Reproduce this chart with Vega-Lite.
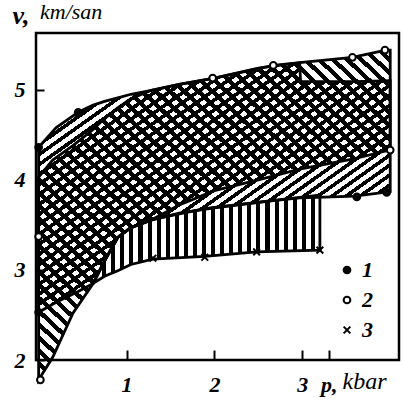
{
"$schema":"https://vega.github.io/schema/vega-lite/v6.json",
"width":363,"height":327,"autosize":"none",
"padding":{"left":36,"top":33,"right":5,"bottom":45},
"background":"white",
"title":{"text":"km/san","anchor":"start","frame":"group","dx":4,"offset":-39,"font":"Liberation Serif","fontSize":22,"fontStyle":"italic","fontWeight":"normal","color":"black","baseline":"alphabetic"},
"datasets":{
"bands":[
{"band":"1","p":0,"lo":2.53,"hi":4.36},{"band":"1","p":0.2,"lo":2.64,"hi":4.58},{"band":"1","p":0.45,"lo":2.76,"hi":4.75},{"band":"1","p":0.62,"lo":2.85,"hi":4.83},{"band":"1","p":0.75,"lo":3.1,"hi":4.87},{"band":"1","p":0.9,"lo":3.36,"hi":4.91},{"band":"1","p":1.05,"lo":3.47,"hi":4.95},{"band":"1","p":1.27,"lo":3.55,"hi":4.99},{"band":"1","p":1.6,"lo":3.63,"hi":5.06},{"band":"1","p":2.0,"lo":3.69,"hi":5.13},{"band":"1","p":2.67,"lo":3.77,"hi":5.27},{"band":"1","p":2.97,"lo":3.8,"hi":5.3},{"band":"1","p":2.98,"lo":3.8,"hi":5.09},{"band":"1","p":3.6,"lo":3.82,"hi":5.09},{"band":"1","p":4.0,"lo":3.87,"hi":5.1},
{"band":"2","p":0,"lo":1.78,"hi":4.03},{"band":"2","p":0.16,"lo":2.03,"hi":4.22},{"band":"2","p":0.39,"lo":2.52,"hi":4.38},{"band":"2","p":0.62,"lo":2.85,"hi":4.56},{"band":"2","p":0.75,"lo":3.1,"hi":4.68},{"band":"2","p":0.9,"lo":3.36,"hi":4.8},{"band":"2","p":1.05,"lo":3.47,"hi":4.9},{"band":"2","p":1.27,"lo":3.55,"hi":4.99},{"band":"2","p":1.6,"lo":3.72,"hi":5.06},{"band":"2","p":2.0,"lo":3.88,"hi":5.13},{"band":"2","p":2.5,"lo":4.0,"hi":5.24},{"band":"2","p":2.97,"lo":4.12,"hi":5.3},{"band":"2","p":3.57,"lo":4.23,"hi":5.36},{"band":"2","p":3.95,"lo":4.32,"hi":5.44},{"band":"2","p":4.0,"lo":4.33,"hi":5.44},
{"band":"3","p":0.62,"lo":2.85,"hi":2.85},{"band":"3","p":0.75,"lo":2.93,"hi":3.1},{"band":"3","p":0.9,"lo":2.99,"hi":3.36},{"band":"3","p":1.05,"lo":3.06,"hi":3.47},{"band":"3","p":1.3,"lo":3.12,"hi":3.56},{"band":"3","p":1.89,"lo":3.15,"hi":3.68},{"band":"3","p":2.48,"lo":3.2,"hi":3.75},{"band":"3","p":3.2,"lo":3.22,"hi":3.83}
],
"pts":[
{"s":"1","p":0,"v":4.36},{"s":"1","p":0.45,"v":4.75},{"s":"1","p":0,"v":2.53},{"s":"1","p":3.62,"v":3.81},{"s":"1","p":3.96,"v":3.86},
{"s":"2","p":0,"v":3.37},{"s":"2","p":0.02,"v":1.78},{"s":"2","p":1.98,"v":5.13},{"s":"2","p":2.67,"v":5.27},{"s":"2","p":3.57,"v":5.36},{"s":"2","p":3.94,"v":5.44},{"s":"2","p":4.0,"v":4.33},
{"s":"3","p":1.3,"v":3.13},{"s":"3","p":1.89,"v":3.14},{"s":"3","p":2.48,"v":3.2},{"s":"3","p":3.2,"v":3.22}
]},
"config":{
"view":{"stroke":"black","strokeWidth":2.5},
"axis":{"grid":false,"domain":false,"labelFont":"Liberation Serif","labelFontStyle":"italic","labelFontWeight":"bold","labelFontSize":22,"labelColor":"black","tickColor":"black","tickWidth":2,"titleColor":"black","titleFont":"Liberation Serif"},
"legend":{"orient":"none","legendX":300,"legendY":226,"title":null,"padding":0,"labelFont":"Liberation Serif","labelFontStyle":"italic","labelFontWeight":"bold","labelFontSize":22,"labelColor":"black","symbolSize":45,"symbolStrokeWidth":2,"rowPadding":8,"labelOffset":4}
},
"encoding":{
"x":{"field":"p","type":"quantitative","scale":{"domain":[-0.03,4.1],"nice":false,"zero":false},
"axis":{"values":[1,2,3,3.3],"labelExpr":"datum.value > 3.2 ? 'p,' : datum.label","tickSize":-10,"labelPadding":24,"title":"kbar","titleAngle":0,"titleAlign":"left","titleBaseline":"alphabetic","titleX":306,"titleY":28,"titleFontSize":24,"titleFontStyle":"italic","titleFontWeight":"normal"}}
},
"layer":[
{"data":{"name":"bands"},"transform":[{"filter":"datum.band == '1'"}],
"mark":{"type":"area","stroke":"black","strokeWidth":2.8,"fill":{"gradient":"linear","x1":0,"y1":0,"x2":1,"y2":1,"stops":[
{"offset":0,"color":"#000"},{"offset":0.009,"color":"#000"},{"offset":0.009,"color":"transparent"},{"offset":0.02,"color":"transparent"},
{"offset":0.02,"color":"#000"},{"offset":0.029,"color":"#000"},{"offset":0.029,"color":"transparent"},{"offset":0.04,"color":"transparent"},
{"offset":0.04,"color":"#000"},{"offset":0.049,"color":"#000"},{"offset":0.049,"color":"transparent"},{"offset":0.06,"color":"transparent"},
{"offset":0.06,"color":"#000"},{"offset":0.069,"color":"#000"},{"offset":0.069,"color":"transparent"},{"offset":0.08,"color":"transparent"},
{"offset":0.08,"color":"#000"},{"offset":0.089,"color":"#000"},{"offset":0.089,"color":"transparent"},{"offset":0.1,"color":"transparent"},
{"offset":0.1,"color":"#000"},{"offset":0.109,"color":"#000"},{"offset":0.109,"color":"transparent"},{"offset":0.12,"color":"transparent"},
{"offset":0.12,"color":"#000"},{"offset":0.129,"color":"#000"},{"offset":0.129,"color":"transparent"},{"offset":0.14,"color":"transparent"},
{"offset":0.14,"color":"#000"},{"offset":0.149,"color":"#000"},{"offset":0.149,"color":"transparent"},{"offset":0.16,"color":"transparent"},
{"offset":0.16,"color":"#000"},{"offset":0.169,"color":"#000"},{"offset":0.169,"color":"transparent"},{"offset":0.18,"color":"transparent"},
{"offset":0.18,"color":"#000"},{"offset":0.189,"color":"#000"},{"offset":0.189,"color":"transparent"},{"offset":0.2,"color":"transparent"},
{"offset":0.2,"color":"#000"},{"offset":0.209,"color":"#000"},{"offset":0.209,"color":"transparent"},{"offset":0.22,"color":"transparent"},
{"offset":0.22,"color":"#000"},{"offset":0.229,"color":"#000"},{"offset":0.229,"color":"transparent"},{"offset":0.24,"color":"transparent"},
{"offset":0.24,"color":"#000"},{"offset":0.249,"color":"#000"},{"offset":0.249,"color":"transparent"},{"offset":0.26,"color":"transparent"},
{"offset":0.26,"color":"#000"},{"offset":0.269,"color":"#000"},{"offset":0.269,"color":"transparent"},{"offset":0.28,"color":"transparent"},
{"offset":0.28,"color":"#000"},{"offset":0.289,"color":"#000"},{"offset":0.289,"color":"transparent"},{"offset":0.3,"color":"transparent"},
{"offset":0.3,"color":"#000"},{"offset":0.309,"color":"#000"},{"offset":0.309,"color":"transparent"},{"offset":0.32,"color":"transparent"},
{"offset":0.32,"color":"#000"},{"offset":0.329,"color":"#000"},{"offset":0.329,"color":"transparent"},{"offset":0.34,"color":"transparent"},
{"offset":0.34,"color":"#000"},{"offset":0.349,"color":"#000"},{"offset":0.349,"color":"transparent"},{"offset":0.36,"color":"transparent"},
{"offset":0.36,"color":"#000"},{"offset":0.369,"color":"#000"},{"offset":0.369,"color":"transparent"},{"offset":0.38,"color":"transparent"},
{"offset":0.38,"color":"#000"},{"offset":0.389,"color":"#000"},{"offset":0.389,"color":"transparent"},{"offset":0.4,"color":"transparent"},
{"offset":0.4,"color":"#000"},{"offset":0.409,"color":"#000"},{"offset":0.409,"color":"transparent"},{"offset":0.42,"color":"transparent"},
{"offset":0.42,"color":"#000"},{"offset":0.429,"color":"#000"},{"offset":0.429,"color":"transparent"},{"offset":0.44,"color":"transparent"},
{"offset":0.44,"color":"#000"},{"offset":0.449,"color":"#000"},{"offset":0.449,"color":"transparent"},{"offset":0.46,"color":"transparent"},
{"offset":0.46,"color":"#000"},{"offset":0.469,"color":"#000"},{"offset":0.469,"color":"transparent"},{"offset":0.48,"color":"transparent"},
{"offset":0.48,"color":"#000"},{"offset":0.489,"color":"#000"},{"offset":0.489,"color":"transparent"},{"offset":0.5,"color":"transparent"},
{"offset":0.5,"color":"#000"},{"offset":0.509,"color":"#000"},{"offset":0.509,"color":"transparent"},{"offset":0.52,"color":"transparent"},
{"offset":0.52,"color":"#000"},{"offset":0.529,"color":"#000"},{"offset":0.529,"color":"transparent"},{"offset":0.54,"color":"transparent"},
{"offset":0.54,"color":"#000"},{"offset":0.549,"color":"#000"},{"offset":0.549,"color":"transparent"},{"offset":0.56,"color":"transparent"},
{"offset":0.56,"color":"#000"},{"offset":0.569,"color":"#000"},{"offset":0.569,"color":"transparent"},{"offset":0.58,"color":"transparent"},
{"offset":0.58,"color":"#000"},{"offset":0.589,"color":"#000"},{"offset":0.589,"color":"transparent"},{"offset":0.6,"color":"transparent"},
{"offset":0.6,"color":"#000"},{"offset":0.609,"color":"#000"},{"offset":0.609,"color":"transparent"},{"offset":0.62,"color":"transparent"},
{"offset":0.62,"color":"#000"},{"offset":0.629,"color":"#000"},{"offset":0.629,"color":"transparent"},{"offset":0.64,"color":"transparent"},
{"offset":0.64,"color":"#000"},{"offset":0.649,"color":"#000"},{"offset":0.649,"color":"transparent"},{"offset":0.66,"color":"transparent"},
{"offset":0.66,"color":"#000"},{"offset":0.669,"color":"#000"},{"offset":0.669,"color":"transparent"},{"offset":0.68,"color":"transparent"},
{"offset":0.68,"color":"#000"},{"offset":0.689,"color":"#000"},{"offset":0.689,"color":"transparent"},{"offset":0.7,"color":"transparent"},
{"offset":0.7,"color":"#000"},{"offset":0.709,"color":"#000"},{"offset":0.709,"color":"transparent"},{"offset":0.72,"color":"transparent"},
{"offset":0.72,"color":"#000"},{"offset":0.729,"color":"#000"},{"offset":0.729,"color":"transparent"},{"offset":0.74,"color":"transparent"},
{"offset":0.74,"color":"#000"},{"offset":0.749,"color":"#000"},{"offset":0.749,"color":"transparent"},{"offset":0.76,"color":"transparent"},
{"offset":0.76,"color":"#000"},{"offset":0.769,"color":"#000"},{"offset":0.769,"color":"transparent"},{"offset":0.78,"color":"transparent"},
{"offset":0.78,"color":"#000"},{"offset":0.789,"color":"#000"},{"offset":0.789,"color":"transparent"},{"offset":0.8,"color":"transparent"},
{"offset":0.8,"color":"#000"},{"offset":0.809,"color":"#000"},{"offset":0.809,"color":"transparent"},{"offset":0.82,"color":"transparent"},
{"offset":0.82,"color":"#000"},{"offset":0.829,"color":"#000"},{"offset":0.829,"color":"transparent"},{"offset":0.84,"color":"transparent"},
{"offset":0.84,"color":"#000"},{"offset":0.849,"color":"#000"},{"offset":0.849,"color":"transparent"},{"offset":0.86,"color":"transparent"},
{"offset":0.86,"color":"#000"},{"offset":0.869,"color":"#000"},{"offset":0.869,"color":"transparent"},{"offset":0.88,"color":"transparent"},
{"offset":0.88,"color":"#000"},{"offset":0.889,"color":"#000"},{"offset":0.889,"color":"transparent"},{"offset":0.9,"color":"transparent"},
{"offset":0.9,"color":"#000"},{"offset":0.909,"color":"#000"},{"offset":0.909,"color":"transparent"},{"offset":0.92,"color":"transparent"},
{"offset":0.92,"color":"#000"},{"offset":0.929,"color":"#000"},{"offset":0.929,"color":"transparent"},{"offset":0.94,"color":"transparent"},
{"offset":0.94,"color":"#000"},{"offset":0.949,"color":"#000"},{"offset":0.949,"color":"transparent"},{"offset":0.96,"color":"transparent"},
{"offset":0.96,"color":"#000"},{"offset":0.969,"color":"#000"},{"offset":0.969,"color":"transparent"},{"offset":0.98,"color":"transparent"},
{"offset":0.98,"color":"#000"},{"offset":0.989,"color":"#000"},{"offset":0.989,"color":"transparent"},{"offset":1,"color":"transparent"}
]}},
"encoding":{"y":{"field":"lo","type":"quantitative","scale":{"domain":[2,5.63],"nice":false,"zero":false},
"axis":{"values":[2,3,4,5],"format":"d","tickSize":-8,"labelPadding":19,"title":"v,","titleAngle":0,"titleAlign":"left","titleBaseline":"alphabetic","titleX":-24,"titleY":-10,"titleFontSize":26,"titleFontStyle":"italic","titleFontWeight":"bold"}},
"y2":{"field":"hi"}}},
{"data":{"name":"bands"},"transform":[{"filter":"datum.band == '2'"}],
"mark":{"type":"area","stroke":"black","strokeWidth":2.8,"fill":{"gradient":"linear","x1":0,"y1":1,"x2":1,"y2":0,"stops":[
{"offset":0,"color":"#000"},{"offset":0.009,"color":"#000"},{"offset":0.009,"color":"transparent"},{"offset":0.02,"color":"transparent"},
{"offset":0.02,"color":"#000"},{"offset":0.029,"color":"#000"},{"offset":0.029,"color":"transparent"},{"offset":0.04,"color":"transparent"},
{"offset":0.04,"color":"#000"},{"offset":0.049,"color":"#000"},{"offset":0.049,"color":"transparent"},{"offset":0.06,"color":"transparent"},
{"offset":0.06,"color":"#000"},{"offset":0.069,"color":"#000"},{"offset":0.069,"color":"transparent"},{"offset":0.08,"color":"transparent"},
{"offset":0.08,"color":"#000"},{"offset":0.089,"color":"#000"},{"offset":0.089,"color":"transparent"},{"offset":0.1,"color":"transparent"},
{"offset":0.1,"color":"#000"},{"offset":0.109,"color":"#000"},{"offset":0.109,"color":"transparent"},{"offset":0.12,"color":"transparent"},
{"offset":0.12,"color":"#000"},{"offset":0.129,"color":"#000"},{"offset":0.129,"color":"transparent"},{"offset":0.14,"color":"transparent"},
{"offset":0.14,"color":"#000"},{"offset":0.149,"color":"#000"},{"offset":0.149,"color":"transparent"},{"offset":0.16,"color":"transparent"},
{"offset":0.16,"color":"#000"},{"offset":0.169,"color":"#000"},{"offset":0.169,"color":"transparent"},{"offset":0.18,"color":"transparent"},
{"offset":0.18,"color":"#000"},{"offset":0.189,"color":"#000"},{"offset":0.189,"color":"transparent"},{"offset":0.2,"color":"transparent"},
{"offset":0.2,"color":"#000"},{"offset":0.209,"color":"#000"},{"offset":0.209,"color":"transparent"},{"offset":0.22,"color":"transparent"},
{"offset":0.22,"color":"#000"},{"offset":0.229,"color":"#000"},{"offset":0.229,"color":"transparent"},{"offset":0.24,"color":"transparent"},
{"offset":0.24,"color":"#000"},{"offset":0.249,"color":"#000"},{"offset":0.249,"color":"transparent"},{"offset":0.26,"color":"transparent"},
{"offset":0.26,"color":"#000"},{"offset":0.269,"color":"#000"},{"offset":0.269,"color":"transparent"},{"offset":0.28,"color":"transparent"},
{"offset":0.28,"color":"#000"},{"offset":0.289,"color":"#000"},{"offset":0.289,"color":"transparent"},{"offset":0.3,"color":"transparent"},
{"offset":0.3,"color":"#000"},{"offset":0.309,"color":"#000"},{"offset":0.309,"color":"transparent"},{"offset":0.32,"color":"transparent"},
{"offset":0.32,"color":"#000"},{"offset":0.329,"color":"#000"},{"offset":0.329,"color":"transparent"},{"offset":0.34,"color":"transparent"},
{"offset":0.34,"color":"#000"},{"offset":0.349,"color":"#000"},{"offset":0.349,"color":"transparent"},{"offset":0.36,"color":"transparent"},
{"offset":0.36,"color":"#000"},{"offset":0.369,"color":"#000"},{"offset":0.369,"color":"transparent"},{"offset":0.38,"color":"transparent"},
{"offset":0.38,"color":"#000"},{"offset":0.389,"color":"#000"},{"offset":0.389,"color":"transparent"},{"offset":0.4,"color":"transparent"},
{"offset":0.4,"color":"#000"},{"offset":0.409,"color":"#000"},{"offset":0.409,"color":"transparent"},{"offset":0.42,"color":"transparent"},
{"offset":0.42,"color":"#000"},{"offset":0.429,"color":"#000"},{"offset":0.429,"color":"transparent"},{"offset":0.44,"color":"transparent"},
{"offset":0.44,"color":"#000"},{"offset":0.449,"color":"#000"},{"offset":0.449,"color":"transparent"},{"offset":0.46,"color":"transparent"},
{"offset":0.46,"color":"#000"},{"offset":0.469,"color":"#000"},{"offset":0.469,"color":"transparent"},{"offset":0.48,"color":"transparent"},
{"offset":0.48,"color":"#000"},{"offset":0.489,"color":"#000"},{"offset":0.489,"color":"transparent"},{"offset":0.5,"color":"transparent"},
{"offset":0.5,"color":"#000"},{"offset":0.509,"color":"#000"},{"offset":0.509,"color":"transparent"},{"offset":0.52,"color":"transparent"},
{"offset":0.52,"color":"#000"},{"offset":0.529,"color":"#000"},{"offset":0.529,"color":"transparent"},{"offset":0.54,"color":"transparent"},
{"offset":0.54,"color":"#000"},{"offset":0.549,"color":"#000"},{"offset":0.549,"color":"transparent"},{"offset":0.56,"color":"transparent"},
{"offset":0.56,"color":"#000"},{"offset":0.569,"color":"#000"},{"offset":0.569,"color":"transparent"},{"offset":0.58,"color":"transparent"},
{"offset":0.58,"color":"#000"},{"offset":0.589,"color":"#000"},{"offset":0.589,"color":"transparent"},{"offset":0.6,"color":"transparent"},
{"offset":0.6,"color":"#000"},{"offset":0.609,"color":"#000"},{"offset":0.609,"color":"transparent"},{"offset":0.62,"color":"transparent"},
{"offset":0.62,"color":"#000"},{"offset":0.629,"color":"#000"},{"offset":0.629,"color":"transparent"},{"offset":0.64,"color":"transparent"},
{"offset":0.64,"color":"#000"},{"offset":0.649,"color":"#000"},{"offset":0.649,"color":"transparent"},{"offset":0.66,"color":"transparent"},
{"offset":0.66,"color":"#000"},{"offset":0.669,"color":"#000"},{"offset":0.669,"color":"transparent"},{"offset":0.68,"color":"transparent"},
{"offset":0.68,"color":"#000"},{"offset":0.689,"color":"#000"},{"offset":0.689,"color":"transparent"},{"offset":0.7,"color":"transparent"},
{"offset":0.7,"color":"#000"},{"offset":0.709,"color":"#000"},{"offset":0.709,"color":"transparent"},{"offset":0.72,"color":"transparent"},
{"offset":0.72,"color":"#000"},{"offset":0.729,"color":"#000"},{"offset":0.729,"color":"transparent"},{"offset":0.74,"color":"transparent"},
{"offset":0.74,"color":"#000"},{"offset":0.749,"color":"#000"},{"offset":0.749,"color":"transparent"},{"offset":0.76,"color":"transparent"},
{"offset":0.76,"color":"#000"},{"offset":0.769,"color":"#000"},{"offset":0.769,"color":"transparent"},{"offset":0.78,"color":"transparent"},
{"offset":0.78,"color":"#000"},{"offset":0.789,"color":"#000"},{"offset":0.789,"color":"transparent"},{"offset":0.8,"color":"transparent"},
{"offset":0.8,"color":"#000"},{"offset":0.809,"color":"#000"},{"offset":0.809,"color":"transparent"},{"offset":0.82,"color":"transparent"},
{"offset":0.82,"color":"#000"},{"offset":0.829,"color":"#000"},{"offset":0.829,"color":"transparent"},{"offset":0.84,"color":"transparent"},
{"offset":0.84,"color":"#000"},{"offset":0.849,"color":"#000"},{"offset":0.849,"color":"transparent"},{"offset":0.86,"color":"transparent"},
{"offset":0.86,"color":"#000"},{"offset":0.869,"color":"#000"},{"offset":0.869,"color":"transparent"},{"offset":0.88,"color":"transparent"},
{"offset":0.88,"color":"#000"},{"offset":0.889,"color":"#000"},{"offset":0.889,"color":"transparent"},{"offset":0.9,"color":"transparent"},
{"offset":0.9,"color":"#000"},{"offset":0.909,"color":"#000"},{"offset":0.909,"color":"transparent"},{"offset":0.92,"color":"transparent"},
{"offset":0.92,"color":"#000"},{"offset":0.929,"color":"#000"},{"offset":0.929,"color":"transparent"},{"offset":0.94,"color":"transparent"},
{"offset":0.94,"color":"#000"},{"offset":0.949,"color":"#000"},{"offset":0.949,"color":"transparent"},{"offset":0.96,"color":"transparent"},
{"offset":0.96,"color":"#000"},{"offset":0.969,"color":"#000"},{"offset":0.969,"color":"transparent"},{"offset":0.98,"color":"transparent"},
{"offset":0.98,"color":"#000"},{"offset":0.989,"color":"#000"},{"offset":0.989,"color":"transparent"},{"offset":1,"color":"transparent"}
]}},
"encoding":{"y":{"field":"lo","type":"quantitative"},"y2":{"field":"hi"}}},
{"data":{"name":"bands"},"transform":[{"filter":"datum.band == '3'"}],
"mark":{"type":"area","stroke":"black","strokeWidth":2.8,"fill":{"gradient":"linear","x1":0,"y1":0,"x2":1,"y2":0,"stops":[
{"offset":0,"color":"#000"},{"offset":0.018,"color":"#000"},{"offset":0.018,"color":"transparent"},{"offset":0.04,"color":"transparent"},
{"offset":0.04,"color":"#000"},{"offset":0.058,"color":"#000"},{"offset":0.058,"color":"transparent"},{"offset":0.08,"color":"transparent"},
{"offset":0.08,"color":"#000"},{"offset":0.098,"color":"#000"},{"offset":0.098,"color":"transparent"},{"offset":0.12,"color":"transparent"},
{"offset":0.12,"color":"#000"},{"offset":0.138,"color":"#000"},{"offset":0.138,"color":"transparent"},{"offset":0.16,"color":"transparent"},
{"offset":0.16,"color":"#000"},{"offset":0.178,"color":"#000"},{"offset":0.178,"color":"transparent"},{"offset":0.2,"color":"transparent"},
{"offset":0.2,"color":"#000"},{"offset":0.218,"color":"#000"},{"offset":0.218,"color":"transparent"},{"offset":0.24,"color":"transparent"},
{"offset":0.24,"color":"#000"},{"offset":0.258,"color":"#000"},{"offset":0.258,"color":"transparent"},{"offset":0.28,"color":"transparent"},
{"offset":0.28,"color":"#000"},{"offset":0.298,"color":"#000"},{"offset":0.298,"color":"transparent"},{"offset":0.32,"color":"transparent"},
{"offset":0.32,"color":"#000"},{"offset":0.338,"color":"#000"},{"offset":0.338,"color":"transparent"},{"offset":0.36,"color":"transparent"},
{"offset":0.36,"color":"#000"},{"offset":0.378,"color":"#000"},{"offset":0.378,"color":"transparent"},{"offset":0.4,"color":"transparent"},
{"offset":0.4,"color":"#000"},{"offset":0.418,"color":"#000"},{"offset":0.418,"color":"transparent"},{"offset":0.44,"color":"transparent"},
{"offset":0.44,"color":"#000"},{"offset":0.458,"color":"#000"},{"offset":0.458,"color":"transparent"},{"offset":0.48,"color":"transparent"},
{"offset":0.48,"color":"#000"},{"offset":0.498,"color":"#000"},{"offset":0.498,"color":"transparent"},{"offset":0.52,"color":"transparent"},
{"offset":0.52,"color":"#000"},{"offset":0.538,"color":"#000"},{"offset":0.538,"color":"transparent"},{"offset":0.56,"color":"transparent"},
{"offset":0.56,"color":"#000"},{"offset":0.578,"color":"#000"},{"offset":0.578,"color":"transparent"},{"offset":0.6,"color":"transparent"},
{"offset":0.6,"color":"#000"},{"offset":0.618,"color":"#000"},{"offset":0.618,"color":"transparent"},{"offset":0.64,"color":"transparent"},
{"offset":0.64,"color":"#000"},{"offset":0.658,"color":"#000"},{"offset":0.658,"color":"transparent"},{"offset":0.68,"color":"transparent"},
{"offset":0.68,"color":"#000"},{"offset":0.698,"color":"#000"},{"offset":0.698,"color":"transparent"},{"offset":0.72,"color":"transparent"},
{"offset":0.72,"color":"#000"},{"offset":0.738,"color":"#000"},{"offset":0.738,"color":"transparent"},{"offset":0.76,"color":"transparent"},
{"offset":0.76,"color":"#000"},{"offset":0.778,"color":"#000"},{"offset":0.778,"color":"transparent"},{"offset":0.8,"color":"transparent"},
{"offset":0.8,"color":"#000"},{"offset":0.818,"color":"#000"},{"offset":0.818,"color":"transparent"},{"offset":0.84,"color":"transparent"},
{"offset":0.84,"color":"#000"},{"offset":0.858,"color":"#000"},{"offset":0.858,"color":"transparent"},{"offset":0.88,"color":"transparent"},
{"offset":0.88,"color":"#000"},{"offset":0.898,"color":"#000"},{"offset":0.898,"color":"transparent"},{"offset":0.92,"color":"transparent"},
{"offset":0.92,"color":"#000"},{"offset":0.938,"color":"#000"},{"offset":0.938,"color":"transparent"},{"offset":0.96,"color":"transparent"},
{"offset":0.96,"color":"#000"},{"offset":0.978,"color":"#000"},{"offset":0.978,"color":"transparent"},{"offset":1,"color":"transparent"}
]}},
"encoding":{"y":{"field":"lo","type":"quantitative"},"y2":{"field":"hi"}}},
{"data":{"name":"pts"},
"mark":{"type":"point","size":45,"strokeWidth":2,"opacity":1},
"encoding":{"y":{"field":"v","type":"quantitative"},
"shape":{"field":"s","type":"nominal","scale":{"domain":["1","2","3"],"range":["circle","circle","M-1,-1L1,1M1,-1L-1,1"]}},
"fill":{"field":"s","type":"nominal","scale":{"domain":["1","2","3"],"range":["black","white","black"]}},
"stroke":{"field":"s","type":"nominal","scale":{"domain":["1","2","3"],"range":["black","black","black"]}}}}
]
}
